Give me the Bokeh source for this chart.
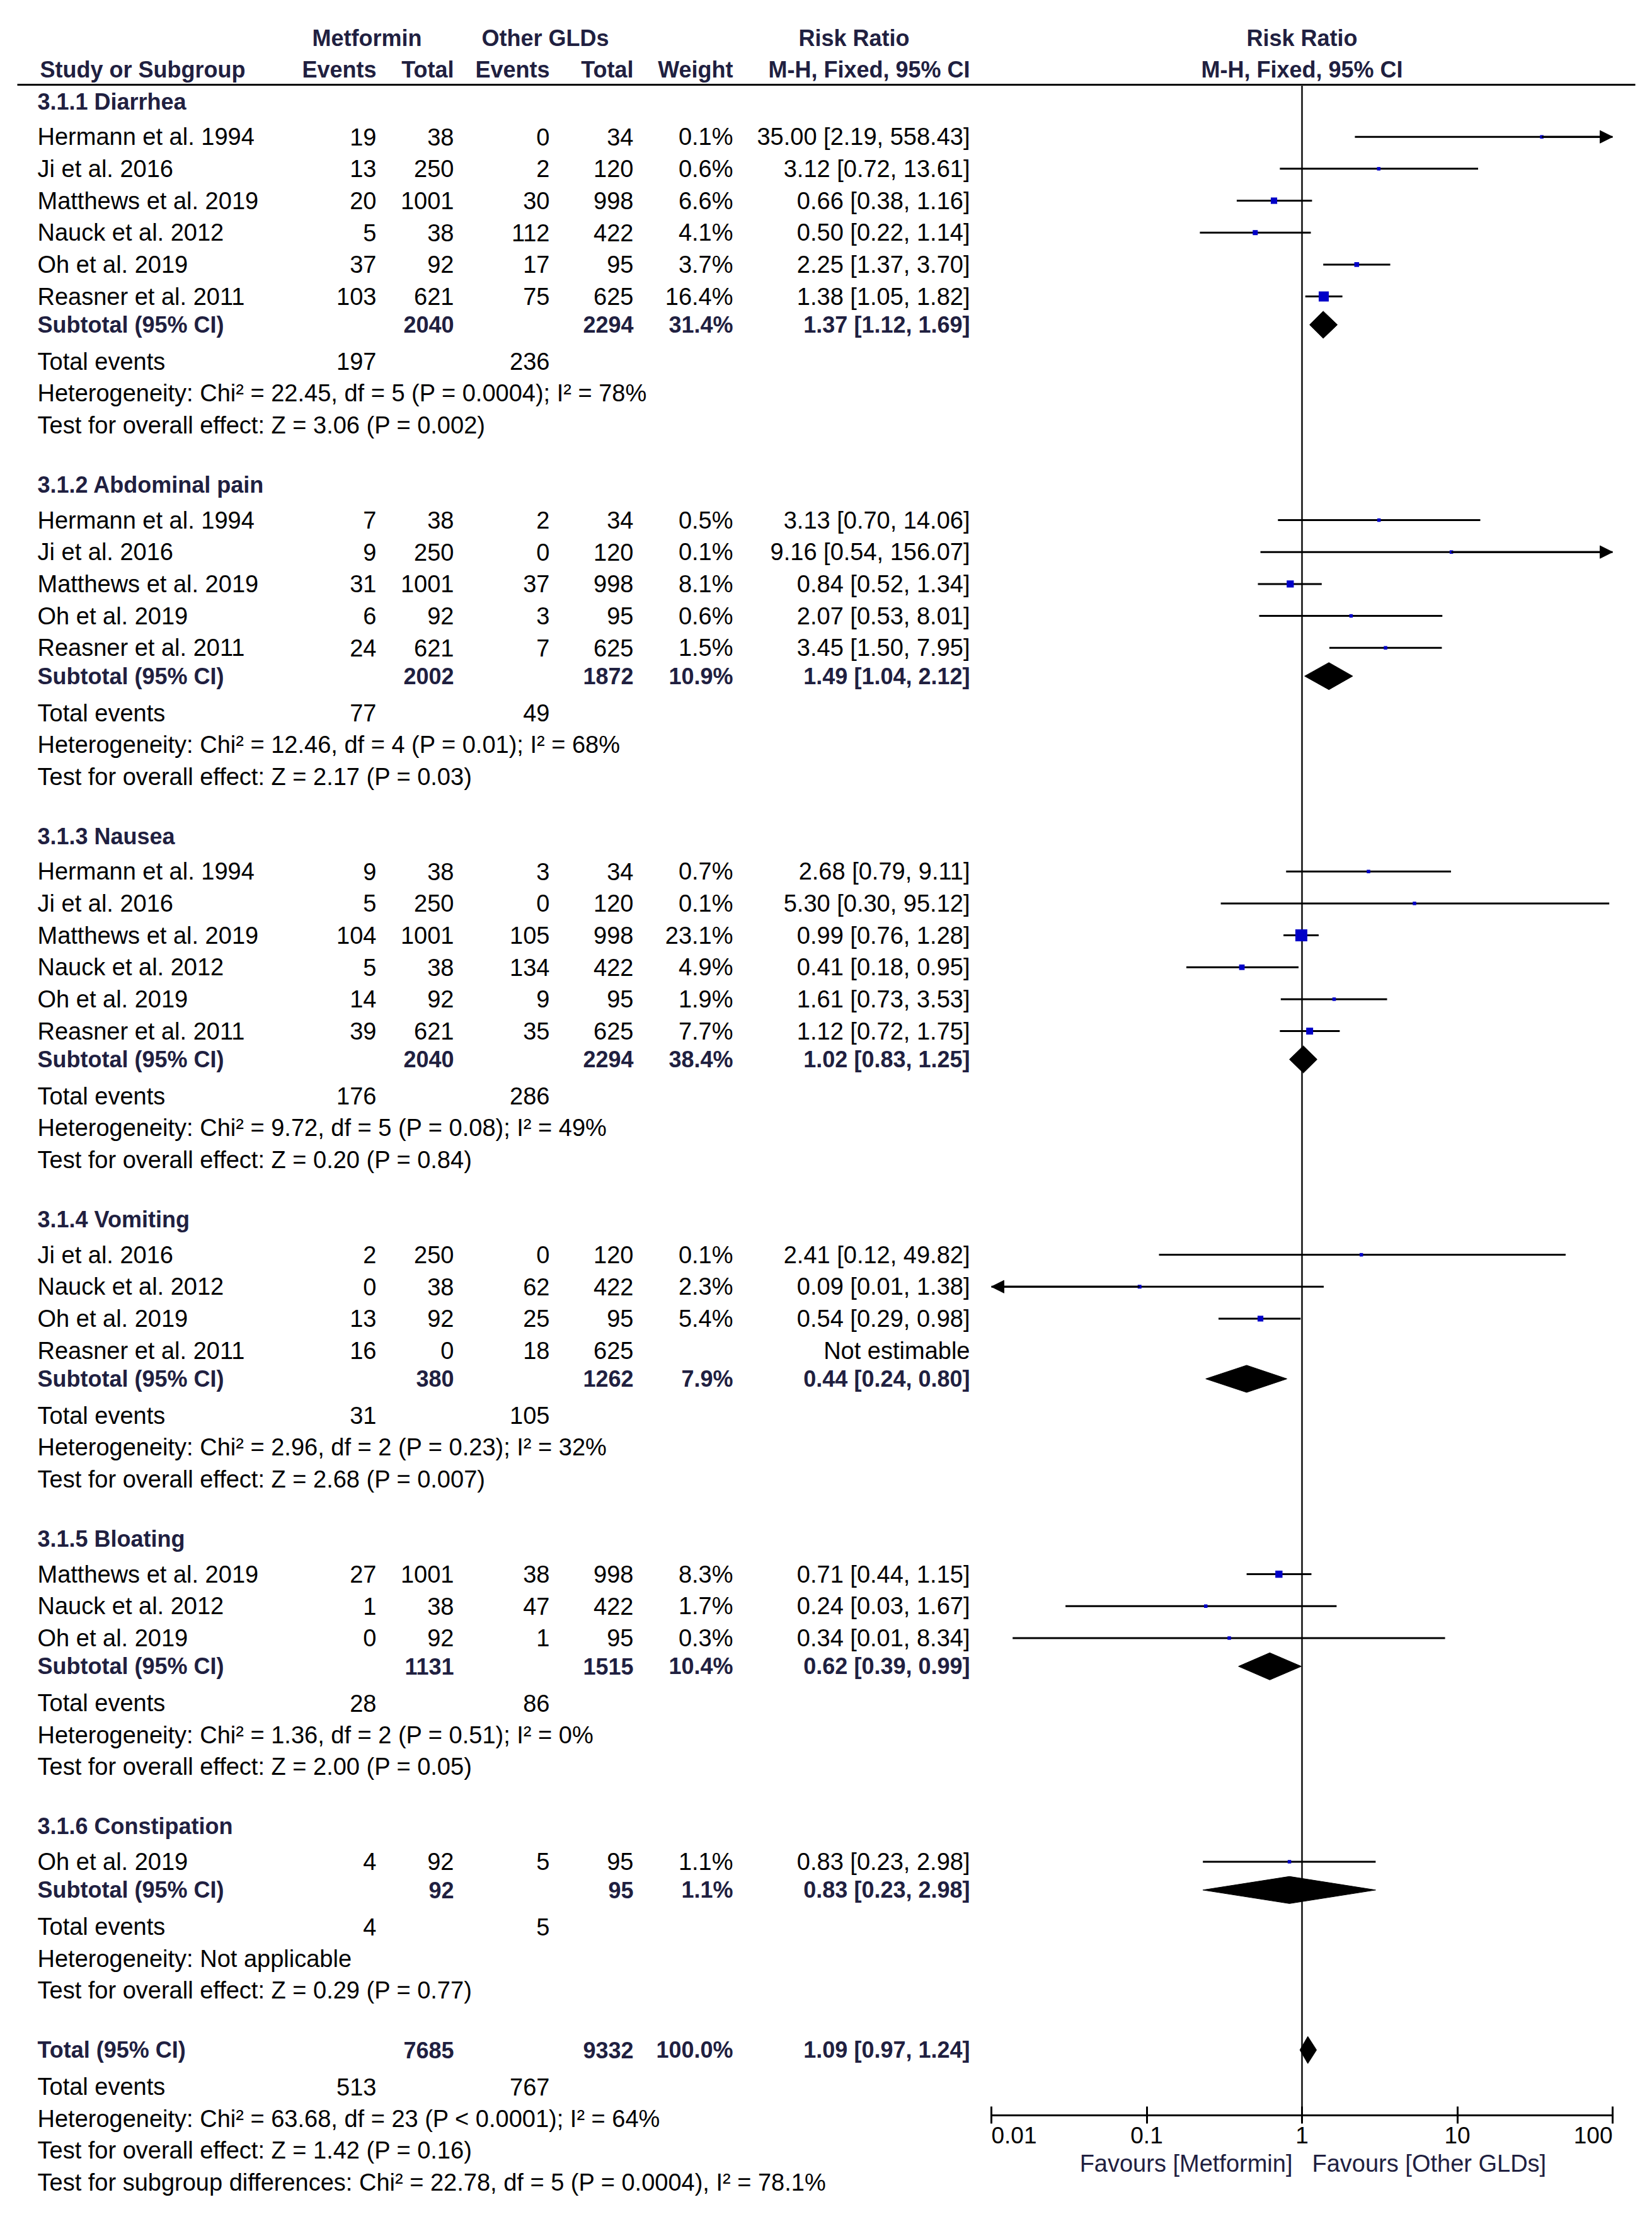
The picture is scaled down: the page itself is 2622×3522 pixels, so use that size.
import math
from bokeh.plotting import figure
from bokeh.models import (Range1d, LogScale, LogAxis, FixedTicker, CustomJSTickFormatter,
                          ColumnDataSource, Arrow, NormalHead)
from bokeh.core.properties import value
from bokeh.embed import file_html
from bokeh.resources import INLINE

# ------------------------------------------------------------------ data
GROUP_TITLES = ["3.1.1 Diarrhea", "3.1.2 Abdominal pain", "3.1.3 Nausea",
                "3.1.4 Vomiting", "3.1.5 Bloating", "3.1.6 Constipation"]

STUDY = ["Hermann et al. 1994", "Ji et al. 2016", "Matthews et al. 2019", "Nauck et al. 2012", "Oh et al. 2019", "Reasner et al. 2011",
         "Hermann et al. 1994", "Ji et al. 2016", "Matthews et al. 2019", "Oh et al. 2019", "Reasner et al. 2011",
         "Hermann et al. 1994", "Ji et al. 2016", "Matthews et al. 2019", "Nauck et al. 2012", "Oh et al. 2019", "Reasner et al. 2011",
         "Ji et al. 2016", "Nauck et al. 2012", "Oh et al. 2019", "Reasner et al. 2011",
         "Matthews et al. 2019", "Nauck et al. 2012", "Oh et al. 2019",
         "Oh et al. 2019"]
STUDY_GROUP = [0, 0, 0, 0, 0, 0,
               1, 1, 1, 1, 1,
               2, 2, 2, 2, 2, 2,
               3, 3, 3, 3,
               4, 4, 4,
               5]
EV_MET = [19, 13, 20, 5, 37, 103,
          7, 9, 31, 6, 24,
          9, 5, 104, 5, 14, 39,
          2, 0, 13, 16,
          27, 1, 0,
          4]
N_MET = [38, 250, 1001, 38, 92, 621,
         38, 250, 1001, 92, 621,
         38, 250, 1001, 38, 92, 621,
         250, 38, 92, 0,
         1001, 38, 92,
         92]
EV_OTH = [0, 2, 30, 112, 17, 75,
          2, 0, 37, 3, 7,
          3, 0, 105, 134, 9, 35,
          0, 62, 25, 18,
          38, 47, 1,
          5]
N_OTH = [34, 120, 998, 422, 95, 625,
         34, 120, 998, 95, 625,
         34, 120, 998, 422, 95, 625,
         120, 422, 95, 625,
         998, 422, 95,
         95]
WEIGHT = [0.1, 0.6, 6.6, 4.1, 3.7, 16.4,
          0.5, 0.1, 8.1, 0.6, 1.5,
          0.7, 0.1, 23.1, 4.9, 1.9, 7.7,
          0.1, 2.3, 5.4, None,
          8.3, 1.7, 0.3,
          1.1]
RR = [35.00, 3.12, 0.66, 0.50, 2.25, 1.38,
      3.13, 9.16, 0.84, 2.07, 3.45,
      2.68, 5.30, 0.99, 0.41, 1.61, 1.12,
      2.41, 0.09, 0.54, None,
      0.71, 0.24, 0.34,
      0.83]
RR_LO = [2.19, 0.72, 0.38, 0.22, 1.37, 1.05,
         0.70, 0.54, 0.52, 0.53, 1.50,
         0.79, 0.30, 0.76, 0.18, 0.73, 0.72,
         0.12, 0.006, 0.29, None,
         0.44, 0.03, 0.0137,
         0.23]
RR_HI = [558.43, 13.61, 1.16, 1.14, 3.70, 1.82,
         14.06, 156.07, 1.34, 8.01, 7.95,
         9.11, 95.12, 1.28, 0.95, 3.53, 1.75,
         49.82, 1.38, 0.98, None,
         1.15, 1.67, 8.34,
         2.98]

SUB_N_MET = [2040, 2002, 2040, 380, 1131, 92]
SUB_N_OTH = [2294, 1872, 2294, 1262, 1515, 95]
SUB_WEIGHT = [31.4, 10.9, 38.4, 7.9, 10.4, 1.1]
SUB_RR = [1.37, 1.49, 1.02, 0.44, 0.62, 0.83]
SUB_LO = [1.12, 1.04, 0.83, 0.24, 0.39, 0.23]
SUB_HI = [1.69, 2.12, 1.25, 0.80, 0.99, 2.98]
SUB_EV_MET = [197, 77, 176, 31, 28, 4]
SUB_EV_OTH = [236, 49, 286, 105, 86, 5]
SUB_HET = ["Heterogeneity: Chi\u00b2 = 22.45, df = 5 (P = 0.0004); I\u00b2 = 78%",
           "Heterogeneity: Chi\u00b2 = 12.46, df = 4 (P = 0.01); I\u00b2 = 68%",
           "Heterogeneity: Chi\u00b2 = 9.72, df = 5 (P = 0.08); I\u00b2 = 49%",
           "Heterogeneity: Chi\u00b2 = 2.96, df = 2 (P = 0.23); I\u00b2 = 32%",
           "Heterogeneity: Chi\u00b2 = 1.36, df = 2 (P = 0.51); I\u00b2 = 0%",
           "Heterogeneity: Not applicable"]
SUB_TEST = ["Test for overall effect: Z = 3.06 (P = 0.002)",
            "Test for overall effect: Z = 2.17 (P = 0.03)",
            "Test for overall effect: Z = 0.20 (P = 0.84)",
            "Test for overall effect: Z = 2.68 (P = 0.007)",
            "Test for overall effect: Z = 2.00 (P = 0.05)",
            "Test for overall effect: Z = 0.29 (P = 0.77)"]

TOTAL_N_MET = 7685
TOTAL_N_OTH = 9332
TOTAL_WEIGHT = 100.0
TOTAL_RR, TOTAL_LO, TOTAL_HI = 1.09, 0.97, 1.24
TOTAL_EV_MET = 513
TOTAL_EV_OTH = 767
TOTAL_HET = "Heterogeneity: Chi\u00b2 = 63.68, df = 23 (P < 0.0001); I\u00b2 = 64%"
TOTAL_TEST = "Test for overall effect: Z = 1.42 (P = 0.16)"
SUBGROUP_TEST = "Test for subgroup differences: Chi\u00b2 = 22.78, df = 5 (P = 0.0004), I\u00b2 = 78.1%"

AXIS_TICKS = [0.01, 0.1, 1, 10, 100]
AXIS_TICK_LABELS = ["0.01", "0.1", "1", "10", "100"]
FAVOURS_LEFT = "Favours [Metformin]"
FAVOURS_RIGHT = "Favours [Other GLDs]"

# ------------------------------------------------------------------ layout / style
FONT = "Liberation Sans"
REG = 38
BOLD = 36
TICK_SIZE = 37
BLACK = "#000000"
HEAD = "#202040"
BLUE = "#0000C8"

PAGE_L, PAGE_T = 0, 0
FRAME_W, FRAME_H = 2606, 3490
X_ONE, DECADE = 2066.0, 246.5          # page px of RR=1, px per decade

LABEL_X = 59
COL_EV1, COL_N1, COL_EV2, COL_N2, COL_W, COL_CI = 597, 720, 872, 1005, 1163, 1539
HDR1_Y, HDR2_Y, HDR_LINE_Y = 60, 110, 134
FIRST_GROUP_Y = 160.5
STEP, HDR_TO_ROW, ROW_TO_SUB, SUB_TO_EVT, LINE_STEP, TEST_TO_NEXT = 50.67, 56.2, 44.9, 58.4, 50.55, 94.4
AXIS_Y, TICKLAB_Y, FAV_Y = 3357, 3388, 3433
DIAMOND_HALF_H = 21.5

rr_start = 10 ** ((PAGE_L - X_ONE) / DECADE)
rr_end = 10 ** ((PAGE_L + FRAME_W - X_ONE) / DECADE)

p = figure(frame_width=FRAME_W, frame_height=FRAME_H,
           x_range=Range1d(PAGE_L, PAGE_L + FRAME_W),
           y_range=Range1d(PAGE_T + FRAME_H, PAGE_T),
           output_backend="svg", toolbar_location=None,
           x_axis_location=None, y_axis_location=None,
           min_border=0, outline_line_color=None, title_location=None)
p.extra_x_ranges = {"rr": Range1d(rr_start, rr_end)}
p.extra_x_scales = {"rr": LogScale()}
p.grid.visible = False
p.background_fill_color = "white"
p.border_fill_color = "white"

# ------------------------------------------------------------------ text helper
text_groups = {}


def add_text(x, y, t, align="left", bold=False, rr=False, color=BLACK, size=None, xoff=0):
    if size is None:
        size = BOLD if bold else REG
    key = (align, bold, rr, color, size, xoff)
    d = text_groups.setdefault(key, {"x": [], "y": [], "text": []})
    d["x"].append(x)
    d["y"].append(y)
    d["text"].append(t)


def ci_text(e, lo, hi):
    return f"{e:.2f} [{lo:.2f}, {hi:.2f}]"


# headers
add_text(582, HDR1_Y, "Metformin", "center", True, color=HEAD)
add_text(865, HDR1_Y, "Other GLDs", "center", True, color=HEAD)
add_text(1355, HDR1_Y, "Risk Ratio", "center", True, color=HEAD)
add_text(1, HDR1_Y, "Risk Ratio", "center", True, rr=True, color=HEAD)
add_text(LABEL_X + 4, HDR2_Y, "Study or Subgroup", "left", True, color=HEAD)
for cx, t in [(COL_EV1, "Events"), (COL_N1, "Total"), (COL_EV2, "Events"), (COL_N2, "Total"),
              (COL_W, "Weight"), (COL_CI, "M-H, Fixed, 95% CI")]:
    add_text(cx, HDR2_Y, t, "right", True, color=HEAD)
add_text(1, HDR2_Y, "M-H, Fixed, 95% CI", "center", True, rr=True, color=HEAD)

# study rows / subgroup rows
st = {"y": [], "rr": [], "size": []}
seg = {"lo": [], "hi": [], "y": []}
arr = {"x0": [], "x1": [], "y": []}
dia = {"xs": [], "ys": []}

lo_lim, hi_lim = AXIS_TICKS[0], AXIS_TICKS[-1]

y = FIRST_GROUP_Y
for g, title in enumerate(GROUP_TITLES):
    add_text(LABEL_X, y, title, "left", True, color=HEAD)
    y += HDR_TO_ROW
    idx = [i for i, gg in enumerate(STUDY_GROUP) if gg == g]
    for k, i in enumerate(idx):
        ry = y
        add_text(LABEL_X, ry, STUDY[i])
        add_text(COL_EV1, ry, str(EV_MET[i]), "right")
        add_text(COL_N1, ry, str(N_MET[i]), "right")
        add_text(COL_EV2, ry, str(EV_OTH[i]), "right")
        add_text(COL_N2, ry, str(N_OTH[i]), "right")
        if RR[i] is None:
            add_text(COL_CI, ry, "Not estimable", "right")
        else:
            add_text(COL_W, ry, f"{WEIGHT[i]:.1f}%", "right")
            add_text(COL_CI, ry, ci_text(RR[i], RR_LO[i], RR_HI[i]), "right")
            st["y"].append(ry)
            st["rr"].append(RR[i])
            st["size"].append(max(5.5, 3.95 * math.sqrt(WEIGHT[i])))
            seg["lo"].append(max(RR_LO[i], lo_lim))
            seg["hi"].append(min(RR_HI[i], hi_lim))
            seg["y"].append(ry)
            if RR_HI[i] > hi_lim:
                arr["x0"].append(RR[i]); arr["x1"].append(hi_lim); arr["y"].append(ry)
            if RR_LO[i] < lo_lim:
                arr["x0"].append(RR[i]); arr["x1"].append(lo_lim); arr["y"].append(ry)
        if k < len(idx) - 1:
            y += STEP
    sy = y + ROW_TO_SUB
    add_text(LABEL_X, sy, "Subtotal (95% CI)", "left", True, color=HEAD)
    add_text(COL_N1, sy, str(SUB_N_MET[g]), "right", True, color=HEAD)
    add_text(COL_N2, sy, str(SUB_N_OTH[g]), "right", True, color=HEAD)
    add_text(COL_W, sy, f"{SUB_WEIGHT[g]:.1f}%", "right", True, color=HEAD)
    add_text(COL_CI, sy, ci_text(SUB_RR[g], SUB_LO[g], SUB_HI[g]), "right", True, color=HEAD)
    dia["xs"].append([SUB_LO[g], SUB_RR[g], SUB_HI[g], SUB_RR[g]])
    dia["ys"].append([sy, sy - DIAMOND_HALF_H, sy, sy + DIAMOND_HALF_H])
    ey = sy + SUB_TO_EVT
    add_text(LABEL_X, ey, "Total events")
    add_text(COL_EV1, ey, str(SUB_EV_MET[g]), "right")
    add_text(COL_EV2, ey, str(SUB_EV_OTH[g]), "right")
    hy = ey + LINE_STEP
    add_text(LABEL_X, hy, SUB_HET[g])
    ty = hy + LINE_STEP
    add_text(LABEL_X, ty, SUB_TEST[g])
    y = ty + TEST_TO_NEXT

# overall
add_text(LABEL_X, y, "Total (95% CI)", "left", True, color=HEAD)
add_text(COL_N1, y, str(TOTAL_N_MET), "right", True, color=HEAD)
add_text(COL_N2, y, str(TOTAL_N_OTH), "right", True, color=HEAD)
add_text(COL_W, y, f"{TOTAL_WEIGHT:.1f}%", "right", True, color=HEAD)
add_text(COL_CI, y, ci_text(TOTAL_RR, TOTAL_LO, TOTAL_HI), "right", True, color=HEAD)
dia["xs"].append([TOTAL_LO, TOTAL_RR, TOTAL_HI, TOTAL_RR])
dia["ys"].append([y, y - DIAMOND_HALF_H, y, y + DIAMOND_HALF_H])
ey = y + SUB_TO_EVT
add_text(LABEL_X, ey, "Total events")
add_text(COL_EV1, ey, str(TOTAL_EV_MET), "right")
add_text(COL_EV2, ey, str(TOTAL_EV_OTH), "right")
add_text(LABEL_X, ey + LINE_STEP, TOTAL_HET)
add_text(LABEL_X, ey + 2 * LINE_STEP, TOTAL_TEST)
add_text(LABEL_X, ey + 3 * LINE_STEP, SUBGROUP_TEST)

# axis labels (text glyphs, RevMan-style alignment)
for i, (tv, tl) in enumerate(zip(AXIS_TICKS, AXIS_TICK_LABELS)):
    al = "left" if i == 0 else ("right" if i == len(AXIS_TICKS) - 1 else "center")
    add_text(tv, TICKLAB_Y, tl, al, False, rr=True, size=TICK_SIZE)
add_text(1, FAV_Y, FAVOURS_LEFT, "right", False, rr=True, color=HEAD, xoff=-15)
add_text(1, FAV_Y, FAVOURS_RIGHT, "left", False, rr=True, color=HEAD, xoff=16)

# ------------------------------------------------------------------ lines & marks
p.segment(x0=[27], x1=[2595], y0=[HDR_LINE_Y], y1=[HDR_LINE_Y], line_color="black", line_width=3)
p.segment(x0=[1], x1=[1], y0=[HDR_LINE_Y], y1=[AXIS_Y], line_color="#333333", line_width=3,
          x_range_name="rr")

p.segment(x0="lo", x1="hi", y0="y", y1="y", source=ColumnDataSource(seg),
          line_color="black", line_width=3, x_range_name="rr")
p.add_layout(Arrow(end=NormalHead(size=20, fill_color="black", line_color="black", line_width=1),
                   x_start="x0", x_end="x1", y_start="y", y_end="y",
                   source=ColumnDataSource(arr), line_color="black", line_width=3,
                   x_range_name="rr"))
p.scatter(x="rr", y="y", size="size", marker="square", source=ColumnDataSource(st),
          fill_color=BLUE, line_color=None, x_range_name="rr")
p.patches(xs="xs", ys="ys", source=ColumnDataSource(dia), fill_color="black",
          line_color="black", line_width=1, x_range_name="rr")

ax = LogAxis(x_range_name="rr", ticker=FixedTicker(ticks=AXIS_TICKS),
             formatter=CustomJSTickFormatter(code="return ''"),
             bounds=(AXIS_TICKS[0], AXIS_TICKS[-1]), fixed_location=AXIS_Y,
             axis_line_width=3, axis_line_color="black",
             major_tick_in=14, major_tick_out=13, major_tick_line_width=3,
             major_tick_line_color="black", minor_tick_line_color=None,
             major_label_standoff=0, major_label_text_font_size="1px")
p.add_layout(ax, "below")

for (align, bold, rr, color, size, xoff), d in text_groups.items():
    p.text(x="x", y="y", text="text", source=ColumnDataSource(d),
           text_align=align, text_baseline="middle",
           text_font=value(FONT), text_font_size=value(f"{size}px"),
           text_font_style="bold" if bold else "normal", text_color=color,
           x_offset=xoff, x_range_name="rr" if rr else "default")

open("out.html", "w").write(file_html(p, INLINE))
